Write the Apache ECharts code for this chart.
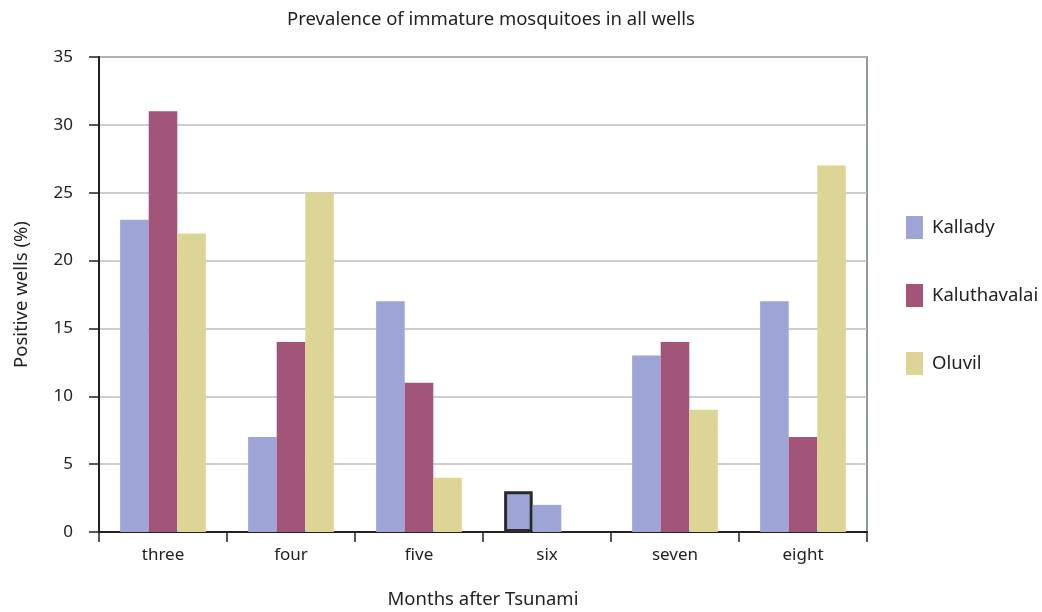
<!DOCTYPE html>
<html>
<head>
<meta charset="utf-8">
<script src="https://cdn.jsdelivr.net/npm/echarts@6/dist/echarts.min.js"></script>
<style>
  html, body { margin: 0; padding: 0; background: #fff; }
  #chart { width: 1042px; height: 612px; }
</style>
</head>
<body>
<div id="chart"></div>
<script>
// Months after the tsunami
const months = ['three', 'four', 'five', 'six', 'seven', 'eight'];

// Percentage of wells positive for immature mosquitoes, per area
const kallady = [23, 7, 17, 3, 13, 17];
const kaluthavalai = [31, 14, 11, 2, 14, 7];
const oluvil = [22, 25, 4, 0, 9, 27];

const yTicks = { min: 0, max: 35, step: 5 };

const colors = { kallady: '#9ca5d5', kaluthavalai: '#a25578', oluvil: '#ddd596' };
const font = '"Noto Sans", "Open Sans", sans-serif';

const chart = echarts.init(document.getElementById('chart'), null, { renderer: 'canvas' });

// The "six" Kallady bar is outlined, and the Kaluthavalai bar of that month uses the Kallady colour
const kalladyData = kallady.map((v, i) => i === 3
  ? { value: v, itemStyle: { borderColor: '#2a2a2a', borderWidth: 3 } }
  : v);
const kaluthavalaiData = kaluthavalai.map((v, i) => i === 3
  ? { value: v, itemStyle: { color: colors.kallady } }
  : v);

chart.setOption({
  animation: false,
  title: {
    text: 'Prevalence of immature mosquitoes in all wells',
    left: 486,
    textAlign: 'center',
    top: 5,
    textStyle: { fontFamily: font, fontWeight: 'normal', fontSize: 18.5, color: '#222' }
  },
  legend: {
    orient: 'vertical',
    left: 906,
    top: 216,
    padding: 0,
    itemWidth: 17,
    itemHeight: 23,
    itemGap: 45,
    icon: 'rect',
    textStyle: { fontFamily: font, fontSize: 18.5, color: '#222', padding: [0, 0, 0, 4] },
    data: ['Kallady', 'Kaluthavalai', 'Oluvil']
  },
  grid: {
    left: 99, right: 175, top: 57, bottom: 80,
    outerBoundsMode: 'none',
    containLabel: false,
    show: true,
    borderColor: '#8d969b',
    borderWidth: 2,
    backgroundColor: '#fff'
  },
  xAxis: {
    type: 'category',
    data: months,
    name: 'Months after Tsunami',
    nameLocation: 'middle',
    nameGap: 58,
    nameTextStyle: { fontFamily: font, fontSize: 18.5, color: '#222' },
    axisLine: { show: true, lineStyle: { color: '#222', width: 2 } },
    axisTick: { show: true, length: 10, lineStyle: { color: '#222', width: 1.5 } },
    axisLabel: { fontFamily: font, fontSize: 17, color: '#222', margin: 15 }
  },
  yAxis: {
    type: 'value',
    min: yTicks.min,
    max: yTicks.max,
    interval: yTicks.step,
    name: 'Positive wells (%)',
    nameLocation: 'middle',
    nameGap: 68,
    nameRotate: 90,
    nameTextStyle: { fontFamily: font, fontSize: 18.5, color: '#222' },
    axisLine: { show: true, lineStyle: { color: '#222', width: 2 } },
    axisTick: { show: true, length: 10, lineStyle: { color: '#222', width: 1.5 } },
    axisLabel: { fontFamily: font, fontSize: 17, color: '#222', margin: 26 },
    splitLine: { show: true, lineStyle: { color: '#bcbcbc', width: 1.5 } }
  },
  series: [
    { name: 'Kallady', type: 'bar', data: kalladyData, itemStyle: { color: colors.kallady },
      barGap: '0%', barCategoryGap: '33%' },
    { name: 'Kaluthavalai', type: 'bar', data: kaluthavalaiData, itemStyle: { color: colors.kaluthavalai },
      barGap: '0%', barCategoryGap: '33%' },
    { name: 'Oluvil', type: 'bar', data: oluvil, itemStyle: { color: colors.oluvil },
      barGap: '0%', barCategoryGap: '33%' }
  ]
});
</script>
</body>
</html>
